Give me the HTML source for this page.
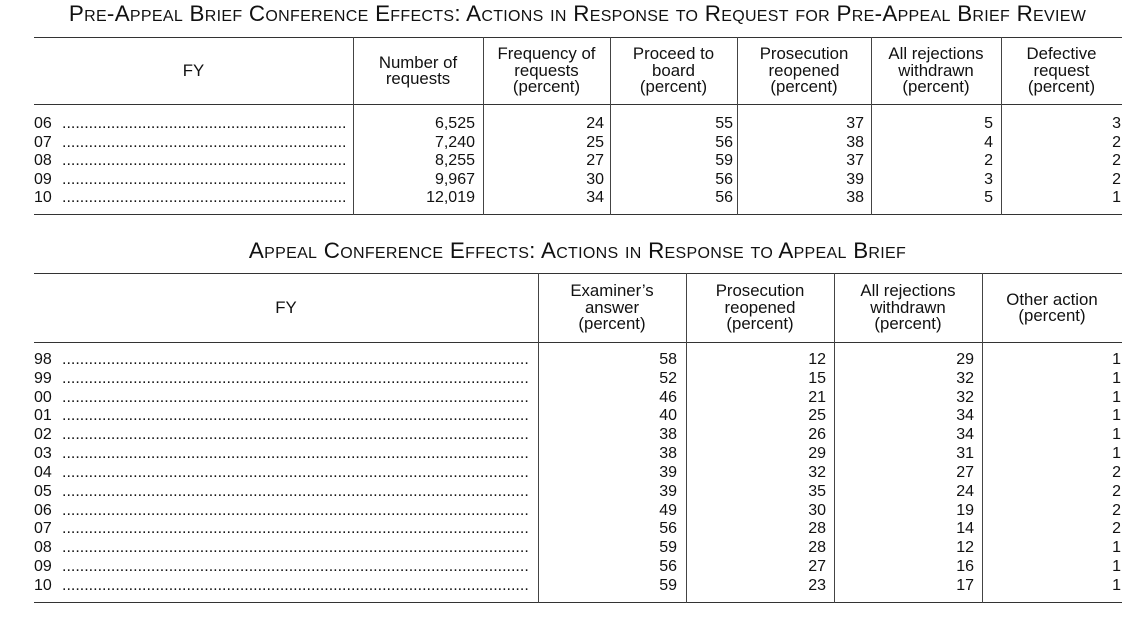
<!DOCTYPE html>
<html><head><meta charset="utf-8"><style>
body{margin:0;width:1133px;height:625px;background:#fff;position:relative;font-family:"Liberation Sans",sans-serif;color:#111;overflow:hidden}
.t{position:absolute;left:11px;width:1133px;text-align:center;font-size:22.4px;font-variant:small-caps;letter-spacing:0.3px;white-space:nowrap}
.h{position:absolute;height:1px;background:#333}
.v{position:absolute;width:1px;background:#444}
.hd{position:absolute;text-align:center;font-size:16.8px;line-height:16.5px;display:flex;align-items:center;justify-content:center}
.r{position:absolute;left:34px;height:18.7px;line-height:18.7px;font-size:16px;white-space:nowrap}
.r span{position:absolute;text-align:right}
.lab{position:absolute;left:0;overflow:hidden;white-space:nowrap}
</style></head><body>
<div class="t" style="top:1px">Pre-Appeal Brief Conference Effects: Actions in Response to Request for Pre-Appeal Brief Review</div>
<div class="h" style="left:34px;width:1088px;top:37px"></div>
<div class="h" style="left:34px;width:1088px;top:104px"></div>
<div class="h" style="left:34px;width:1088px;top:214px"></div>
<div class="v" style="left:353px;top:37px;height:178px"></div>
<div class="v" style="left:483px;top:37px;height:178px"></div>
<div class="v" style="left:610px;top:37px;height:178px"></div>
<div class="v" style="left:737px;top:37px;height:178px"></div>
<div class="v" style="left:871px;top:37px;height:178px"></div>
<div class="v" style="left:1001px;top:37px;height:178px"></div>
<div class="hd" style="left:34px;width:319px;top:38px;height:66px">FY</div>
<div class="hd" style="left:353px;width:130px;top:38px;height:66px">Number of<br>requests</div>
<div class="hd" style="left:483px;width:127px;top:38px;height:66px">Frequency of<br>requests<br>(percent)</div>
<div class="hd" style="left:610px;width:127px;top:38px;height:66px">Proceed to<br>board<br>(percent)</div>
<div class="hd" style="left:737px;width:134px;top:38px;height:66px">Prosecution<br>reopened<br>(percent)</div>
<div class="hd" style="left:871px;width:130px;top:38px;height:66px">All rejections<br>withdrawn<br>(percent)</div>
<div class="hd" style="left:1001px;width:121px;top:38px;height:66px">Defective<br>request<br>(percent)</div>

<div id="t1"></div>

<div class="t" style="top:238px">Appeal Conference Effects: Actions in Response to Appeal Brief</div>
<div class="h" style="left:34px;width:1088px;top:273px"></div>
<div class="h" style="left:34px;width:1088px;top:342px"></div>
<div class="h" style="left:34px;width:1088px;top:602px"></div>
<div class="v" style="left:538px;top:273px;height:330px"></div>
<div class="v" style="left:686px;top:273px;height:330px"></div>
<div class="v" style="left:834px;top:273px;height:330px"></div>
<div class="v" style="left:982px;top:273px;height:330px"></div>
<div class="hd" style="left:34px;width:504px;top:274px;height:68px">FY</div>
<div class="hd" style="left:538px;width:148px;top:274px;height:68px">Examiner’s<br>answer<br>(percent)</div>
<div class="hd" style="left:686px;width:148px;top:274px;height:68px">Prosecution<br>reopened<br>(percent)</div>
<div class="hd" style="left:834px;width:148px;top:274px;height:68px">All rejections<br>withdrawn<br>(percent)</div>
<div class="hd" style="left:982px;width:140px;top:274px;height:68px">Other action<br>(percent)</div>

<div id="t2"></div>
<script>
function dots(n){return '.'.repeat(n)}
function build(id,rows,top,step,rights,labW){
 var h='';
 rows.forEach(function(r,i){
  var y=top+i*step;
  h+='<div class="r" style="top:'+y+'px;width:1090px"><div class="lab" style="width:'+labW+'px;font-size:16px">'+r[0]+'<span style="position:absolute;left:28px;font-size:16px">'+dots(150)+'</span></div>';
  for(var j=1;j<r.length;j++){h+='<span style="right:'+(1090-rights[j-1]+34)+'px">'+r[j]+'</span>';}
  h+='</div>';
 });
 document.getElementById(id).innerHTML=h;
}
build('t1',[['06','6,525','24','55','37','5','3'],['07','7,240','25','56','38','4','2'],['08','8,255','27','59','37','2','2'],['09','9,967','30','56','39','3','2'],['10','12,019','34','56','38','5','1']],115,18.6,[475,604,733,864,993,1121],311);
build('t2',[['98','58','12','29','1'],['99','52','15','32','1'],['00','46','21','32','1'],['01','40','25','34','1'],['02','38','26','34','1'],['03','38','29','31','1'],['04','39','32','27','2'],['05','39','35','24','2'],['06','49','30','19','2'],['07','56','28','14','2'],['08','59','28','12','1'],['09','56','27','16','1'],['10','59','23','17','1']],351,18.83,[677,826,974,1121],496);
</script>
</body></html>
